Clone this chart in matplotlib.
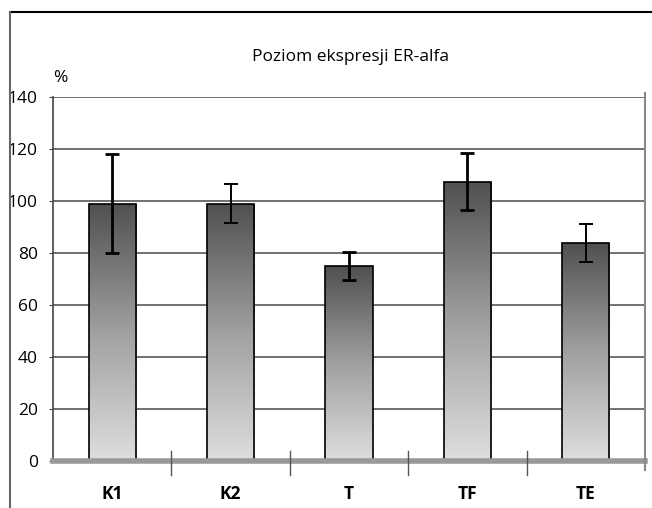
import numpy as np
import matplotlib
matplotlib.use("Agg")
import matplotlib.pyplot as plt
from matplotlib.colors import LinearSegmentedColormap
from matplotlib.lines import Line2D

kategorie = ["K1", "K2", "T", "TF", "TE"]
wartosci = [99, 99, 75, 107.5, 84]
bledy = [19, 7.5, 5.5, 11, 7.3]
grubosc_bledow = [2.0, 1.4, 2.0, 2.0, 1.4]
yticks = [0, 20, 40, 60, 80, 100, 120, 140]

plt.rcParams['font.family'] = ['Open Sans', 'DejaVu Sans']

fig = plt.figure(figsize=(6.52, 5.08), dpi=100)
ax = fig.add_axes([53 / 652, 47 / 508, 592 / 652, 364 / 508])

x = np.arange(len(kategorie))
szer = 0.4
cmap = LinearSegmentedColormap.from_list("szary", ["#dedede", "#a0a0a0", "#505050"])
grad = np.linspace(0, 1, 256).reshape(-1, 1)

# siatka
for t in yticks[1:]:
    ax.axhline(t, color="#666666", lw=1.3, zorder=1)

bars = ax.bar(x, wartosci, width=szer, color="none", edgecolor="black", lw=1.2, zorder=3)
for b in bars:
    x0, y0 = b.get_x(), b.get_y()
    im = ax.imshow(grad, cmap=cmap, aspect="auto", origin="lower",
                   extent=[x0, x0 + b.get_width(), y0, y0 + b.get_height()], zorder=2)
    im.set_clip_path(b)

for i in range(len(kategorie)):
    ax.errorbar(x[i], wartosci[i], yerr=bledy[i], fmt="none", ecolor="black",
                elinewidth=grubosc_bledow[i], capsize=5, capthick=grubosc_bledow[i], zorder=4)

ax.set_xlim(-0.5, len(kategorie) - 0.5)
ax.set_ylim(0, 140)

# os pozioma - gruba szara linia
ax.axhline(0, color="#999999", lw=4, zorder=5, clip_on=False)
for xs in x[:-1] + 0.5:
    ax.plot([xs, xs], [4, -5.5], color="#555555", lw=1, clip_on=False, zorder=6)
ax.plot([x[-1] + 0.5, x[-1] + 0.5], [141.5, -3.5], color="#888888", lw=1.5, clip_on=False, zorder=6)

for s in ["top", "right", "bottom"]:
    ax.spines[s].set_visible(False)
ax.spines["left"].set_color("#444444")
ax.spines["left"].set_linewidth(1.2)

ax.set_yticks(yticks)
ax.set_yticklabels([str(t) for t in yticks], fontsize=12.5)
ax.tick_params(axis="y", length=3, color="#444444", pad=8)
ax.set_xticks(x)
ax.set_xticklabels(kategorie, fontsize=12.5, fontweight="bold")
ax.tick_params(axis="x", length=0, pad=17)

fig.text(350 / 652, 1 - 57 / 508, "Poziom ekspresji ER-alfa", ha="center", va="center", fontsize=12.5)
fig.text(60 / 652, 1 - 78 / 508, "%", ha="center", va="center", fontsize=12.5)

# ramka
fig.add_artist(Line2D([10 / 652, 1], [1 - 12 / 508, 1 - 12 / 508], color="black", lw=1.5))
fig.add_artist(Line2D([10 / 652, 10 / 652], [0, 1 - 12 / 508], color="#666666", lw=1.5))

fig.savefig("out.png", dpi=100)
